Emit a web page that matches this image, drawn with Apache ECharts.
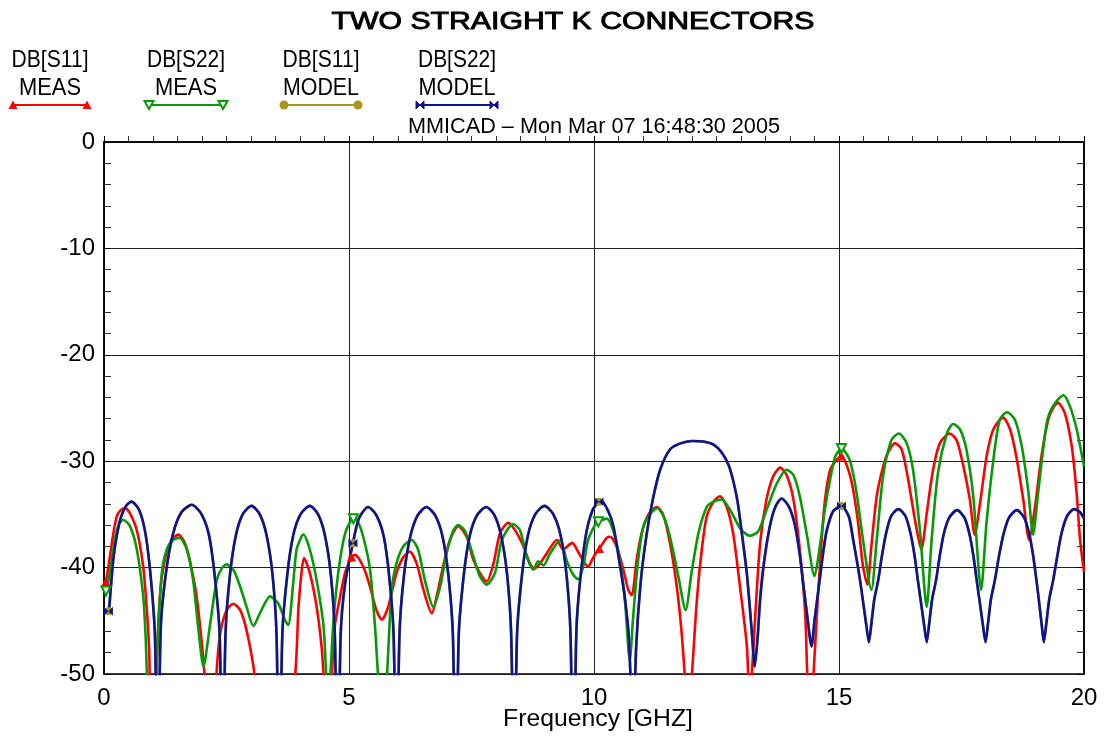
<!DOCTYPE html>
<html><head><meta charset="utf-8">
<script src="https://cdn.jsdelivr.net/npm/echarts@6/dist/echarts.min.js"></script>
<style>html,body{margin:0;padding:0;background:#fff;}#c{width:1104px;height:742px;}</style>
</head><body><div id="c"></div>
<script>
// ---------------- data ----------------
const titleText = 'TWO STRAIGHT K CONNECTORS';
const subtitleText = 'MMICAD \u2013 Mon Mar 07 16:48:30 2005';
const xAxisTitle = 'Frequency [GHZ]';
const legendLine1 = ['DB[S11]', 'DB[S22]', 'DB[S11]', 'DB[S22]'];
const legendLine2 = ['MEAS', 'MEAS', 'MODEL', 'MODEL'];
const xMin = 0, xMax = 20, xStep = 5;
const yMin = -50, yMax = 0, yStep = 10;

// DB[S11] MEAS (red)
const s11MeasFreq = [0.00,0.04,0.12,0.19,0.26,0.34,0.43,0.53,0.67,0.80,0.87,0.92,0.96,1.03,1.07,1.14,1.24,1.38,1.52,1.65,1.75,1.89,1.99,2.06,2.15,2.25,2.31,2.37,2.50,2.64,2.78,2.91,3.05,3.12,3.50,3.88,3.97,4.03,4.08,4.20,4.34,4.44,4.50,4.58,4.65,4.71,4.82,4.92,5.02,5.05,5.12,5.29,5.43,5.56,5.67,5.80,5.97,6.11,6.24,6.38,6.52,6.69,6.79,6.92,7.06,7.23,7.40,7.54,7.67,7.81,7.95,8.08,8.25,8.39,8.56,8.69,8.78,8.90,9.03,9.24,9.37,9.51,9.56,9.71,9.88,9.99,10.11,10.26,10.33,10.46,10.60,10.70,10.77,10.87,10.97,11.11,11.28,11.41,11.55,11.69,11.79,11.86,11.92,11.99,12.10,12.20,12.30,12.44,12.57,12.71,12.84,12.98,13.12,13.17,13.22,13.29,13.39,13.52,13.66,13.80,13.93,14.07,14.20,14.31,14.36,14.42,14.48,14.56,14.63,14.71,14.82,14.95,15.05,15.19,15.29,15.39,15.49,15.58,15.66,15.77,15.90,16.00,16.14,16.28,16.41,16.55,16.68,16.79,16.92,17.06,17.26,17.40,17.54,17.67,17.77,17.88,18.01,18.15,18.35,18.49,18.62,18.76,18.88,19.00,19.13,19.27,19.37,19.47,19.61,19.75,19.85,19.92,20.00];
const s11MeasDb = [-41.6,-41.3,-39.0,-36.8,-35.2,-34.6,-34.4,-34.9,-36.5,-39.9,-43.7,-47.5,-53,-53,-49.5,-42.7,-39.3,-37.4,-36.9,-37.7,-39.3,-42.7,-46.8,-50.5,-55,-53,-49.0,-46.2,-44.0,-43.4,-44.0,-45.9,-49.3,-52,-58,-51,-43.7,-40.5,-39.1,-40.5,-43.7,-47.4,-51,-53,-50,-45.5,-42.7,-40.5,-39.3,-39.0,-38.8,-39.9,-41.8,-44.0,-44.9,-43.7,-40.5,-39.0,-38.5,-39.6,-42.1,-44.3,-42.7,-39.9,-37.4,-36.1,-37.1,-39.3,-40.5,-41.3,-39.6,-36.8,-35.8,-36.5,-38.0,-39.6,-40.1,-39.6,-38.7,-37.4,-38.3,-37.8,-37.7,-38.8,-39.9,-39.0,-38.2,-37.2,-37.1,-38.0,-40.2,-42.1,-42.6,-39.3,-36.8,-35.0,-34.3,-35.0,-37.7,-41.8,-46.2,-50.5,-53,-50.5,-43.0,-38.3,-35.2,-33.8,-33.3,-34.3,-36.8,-41.8,-47.4,-52,-50,-44.6,-37.7,-33.6,-31.4,-30.6,-31.3,-33.6,-38.3,-44.3,-51,-54,-50,-43.5,-38.5,-33.8,-30.8,-29.9,-29.5,-30.8,-32.7,-35.8,-39.9,-41.6,-38.0,-33.3,-30.5,-29.2,-28.3,-28.9,-31.7,-35.5,-38.3,-34.9,-30.8,-28.3,-27.4,-28.0,-30.5,-33.6,-36.9,-33.9,-29.6,-27.0,-25.9,-27.0,-29.6,-33.6,-37.4,-34.3,-29.6,-26.1,-25.0,-24.5,-25.5,-28.6,-33.0,-37.4,-40.4];
const s11MeasMarkers = [0.04, 5.05, 10.11, 15.05];

// DB[S22] MEAS (green)
const s22MeasFreq = [0.00,0.04,0.12,0.22,0.30,0.39,0.53,0.67,0.80,0.85,0.88,0.97,1.06,1.11,1.18,1.28,1.41,1.54,1.69,1.82,1.92,2.03,2.16,2.30,2.40,2.50,2.64,2.78,2.91,3.05,3.18,3.39,3.56,3.69,3.76,3.86,3.93,4.03,4.07,4.20,4.34,4.48,4.54,4.58,4.62,4.68,4.78,4.92,5.09,5.16,5.29,5.43,5.53,5.60,5.69,5.77,5.87,5.97,6.11,6.28,6.41,6.55,6.72,6.86,6.99,7.13,7.23,7.37,7.54,7.67,7.81,7.98,8.12,8.35,8.49,8.63,8.76,8.86,8.97,9.10,9.31,9.44,9.58,9.68,9.78,9.88,10.02,10.09,10.26,10.39,10.53,10.63,10.73,10.80,10.90,11.01,11.14,11.29,11.45,11.58,11.72,11.87,11.99,12.13,12.30,12.44,12.61,12.78,12.98,13.12,13.18,13.35,13.52,13.73,13.93,14.07,14.20,14.34,14.50,14.61,14.71,14.82,14.92,15.05,15.22,15.36,15.49,15.66,15.77,15.90,16.07,16.22,16.38,16.51,16.65,16.79,16.89,17.02,17.20,17.33,17.47,17.60,17.74,17.90,18.01,18.15,18.28,18.43,18.59,18.73,18.86,18.96,19.07,19.24,19.37,19.58,19.71,19.85,20.00];
const s22MeasDb = [-42.3,-42.2,-40.5,-37.4,-36.0,-35.5,-36.1,-38.3,-42.7,-46.5,-50.5,-56,-50.5,-45.5,-40.5,-38.3,-37.4,-37.2,-38.3,-41.2,-45.5,-49.3,-45.5,-41.2,-40.1,-39.7,-40.2,-41.8,-43.7,-45.5,-44.3,-42.7,-43.4,-44.9,-45.4,-41.5,-38.3,-37.1,-36.9,-38.3,-41.2,-45.5,-50.5,-52,-50,-45.2,-40.5,-36.8,-35.4,-35.5,-37.1,-40.2,-45.5,-50.5,-54,-50.5,-42.1,-39.6,-38.0,-37.4,-38.3,-41.2,-43.7,-41.8,-38.7,-36.5,-36.0,-36.6,-39.0,-40.8,-41.6,-40.5,-37.4,-35.9,-36.5,-39.0,-40.2,-39.4,-39.8,-38.7,-37.4,-39.3,-40.7,-41.1,-39.9,-37.4,-36.0,-35.7,-35.4,-36.5,-39.3,-43.0,-48.7,-44.6,-39.3,-36.1,-35.0,-34.4,-35.5,-37.7,-40.8,-44.0,-40.5,-36.8,-34.3,-33.8,-33.6,-34.6,-36.3,-36.9,-37.0,-36.6,-34.6,-32.1,-30.8,-31.3,-33.3,-36.8,-40.8,-38.0,-34.6,-31.7,-29.6,-28.8,-29.9,-33.0,-37.4,-42.1,-37.4,-31.4,-28.0,-27.4,-28.3,-30.8,-36.4,-43.7,-37.4,-31.1,-27.4,-26.5,-27.0,-28.9,-33.3,-42.1,-35.8,-29.9,-26.1,-25.4,-26.1,-28.6,-32.7,-36.9,-32.7,-26.4,-24.8,-23.8,-24.8,-27.0,-30.5];
const s22MeasMarkers = [0.04, 5.09, 10.09, 15.05];

// DB[S22] MODEL (blue)
const s22ModelFreq = [0.00,0.09,0.13,0.19,0.26,0.35,0.45,0.56,0.72,0.85,0.96,1.04,1.09,1.16,1.27,1.41,1.58,1.79,1.98,2.14,2.26,2.36,2.42,2.48,2.57,2.69,2.83,3.01,3.18,3.32,3.44,3.52,3.58,3.64,3.74,3.86,4.01,4.20,4.37,4.51,4.63,4.71,4.77,4.83,4.92,5.08,5.20,5.39,5.56,5.71,5.82,5.91,5.97,6.03,6.12,6.25,6.40,6.58,6.76,6.91,7.03,7.12,7.18,7.24,7.34,7.46,7.61,7.80,7.97,8.11,8.23,8.31,8.37,8.43,8.53,8.65,8.80,8.99,9.17,9.32,9.44,9.52,9.58,9.64,9.71,9.84,9.97,10.10,10.15,10.30,10.40,10.52,10.62,10.71,10.80,10.86,10.95,11.07,11.20,11.35,11.55,11.75,12.00,12.23,12.44,12.61,12.75,12.85,12.93,13.01,13.12,13.22,13.28,13.34,13.39,13.47,13.59,13.70,13.83,13.98,14.10,14.20,14.27,14.35,14.44,14.50,14.56,14.61,14.68,14.75,14.88,15.05,15.20,15.29,15.37,15.43,15.50,15.56,15.61,15.66,15.72,15.80,15.88,15.96,16.06,16.21,16.36,16.46,16.54,16.61,16.68,16.74,16.79,16.84,16.90,16.98,17.06,17.14,17.25,17.41,17.56,17.66,17.74,17.81,17.88,17.94,17.99,18.04,18.10,18.18,18.27,18.36,18.47,18.63,18.78,18.88,18.96,19.03,19.09,19.14,19.18,19.23,19.29,19.37,19.46,19.54,19.65,19.80,19.92,20.00];
const s22ModelDb = [-44.3,-44.1,-42.4,-39.2,-37.0,-35.2,-34.2,-33.8,-34.6,-36.9,-41.2,-46.5,-62,-45.5,-40.3,-36.8,-34.8,-34.1,-34.9,-36.9,-40.8,-46.3,-62,-46.2,-40.7,-37.0,-35.0,-34.2,-35.0,-37.0,-40.7,-46.2,-62,-46.2,-40.7,-37.0,-35.0,-34.2,-35.0,-37.0,-40.7,-46.2,-62,-46.3,-41.5,-37.7,-35.4,-34.3,-35.1,-37.1,-40.8,-46.3,-62,-46.3,-40.8,-37.1,-35.1,-34.3,-35.1,-37.1,-40.8,-46.3,-62,-46.3,-40.8,-37.1,-35.1,-34.3,-35.1,-37.1,-40.8,-46.3,-62,-46.2,-40.7,-37.0,-35.0,-34.2,-35.0,-37.0,-40.7,-46.2,-62,-46.0,-41.5,-36.8,-34.6,-33.8,-33.7,-34.8,-36.2,-39.5,-42.5,-46.5,-56,-47.5,-41.5,-37.0,-33.6,-30.8,-28.9,-28.35,-28.1,-28.15,-28.45,-29.2,-30.4,-32.0,-33.8,-36.5,-40.6,-46.0,-49.3,-46.5,-43.0,-39.5,-36.1,-34.3,-33.5,-34.3,-36.0,-38.8,-41.5,-44.5,-47.4,-45.0,-42.8,-41.0,-38.5,-36.5,-34.7,-34.2,-35.2,-37.4,-39.5,-41.2,-43.5,-45.5,-47.0,-45.3,-43.0,-41.2,-38.8,-36.8,-35.2,-34.5,-35.2,-36.8,-38.8,-41.2,-43.5,-45.5,-47.0,-45.3,-43.0,-41.2,-38.8,-36.8,-35.3,-34.6,-35.3,-36.8,-38.8,-41.2,-43.5,-45.5,-47.0,-45.3,-43.0,-41.2,-38.8,-36.8,-35.3,-34.6,-35.3,-36.8,-38.8,-41.2,-43.5,-45.5,-47.0,-45.3,-43.0,-41.2,-38.8,-36.8,-35.2,-34.5,-34.8,-35.4];
const s22ModelMarkers = [0.09, 5.08, 10.10, 15.05];

// DB[S11] MODEL (olive) - coincides with the S22 model curve, hidden beneath it
const s11ModelFreq = s22ModelFreq;
const s11ModelDb = s22ModelDb;
const s11ModelMarkers = [0.09, 5.08, 10.10, 15.05];

// ---------------- styling ----------------
const RED = '#ff0000', GREEN = '#069a06', OLIVE = '#a8951c', BLUE = '#0b1493';
const FONT = '"Liberation Sans", Arial, Helvetica, sans-serif';
const SYM = {
  red: {symbol: 'triangle', symbolSize: 9},
  green: {symbol: 'path://M0,0L10,0L5,9Z', symbolSize: 9, itemStyle: {color: '#fff', borderColor: GREEN, borderWidth: 2}},
  olive: {symbol: 'circle', symbolSize: 8},
  blue: {symbol: 'path://M0,0L5,5L10,0L10,10L5,5L0,10Z', symbolSize: 9}
};

function buildData(freq, db, markers, sym) {
  return freq.map((f, i) => markers.indexOf(f) >= 0
    ? Object.assign({value: [f, db[i]]}, sym)
    : [f, db[i]]);
}
function lineSeries(name, color, freq, db, markers, sym) {
  return {
    name, type: 'line', data: buildData(freq, db, markers, sym),
    symbol: 'none', showSymbol: true, smooth: 0.25, clip: true,
    color, lineStyle: {color, width: 2.6}, itemStyle: {color},
    silent: true, animation: false
  };
}

const ctx = document.createElement('canvas').getContext('2d');
function fitScale(text, font, width) { ctx.font = font; return width / ctx.measureText(text).width; }
function label(text, cx, cy, size, weight, width, strokeW) {
  const font = weight + ' ' + size + 'px ' + FONT;
  const style = {text, x: 0, y: 0, font, fill: '#000', align: 'center', verticalAlign: 'middle',
      textAlign: 'center', textVerticalAlign: 'middle'};
  if (strokeW) { style.stroke = '#000'; style.lineWidth = strokeW; }
  return {type: 'text', x: cx, y: cy, scaleX: fitScale(text, font, width), silent: true, style};
}

const graphics = [];
graphics.push(label(titleText, 573, 22, 24, 'normal', 483, 0.9));
graphics.push(label(subtitleText, 594, 127, 22, 'normal', 372));
graphics.push(label(xAxisTitle, 598, 719.5, 24, 'normal', 190));

const legendCenters = [50, 186, 321, 457];
const legendColors = [RED, GREEN, OLIVE, BLUE];
const line1W = [77, 78, 77, 78], line2W = [62, 62, 76, 77];
function legendMarker(k, x, y) {
  const c = legendColors[k];
  if (k === 0) return {type: 'polygon', silent: true, shape: {points: [[x-4.5, y+4], [x+4.5, y+4], [x, y-4.5]]}, style: {fill: c}};
  if (k === 1) return {type: 'polygon', silent: true, shape: {points: [[x-4.5, y-4], [x+4.5, y-4], [x, y+4]]}, style: {fill: '#fff', stroke: c, lineWidth: 2}};
  if (k === 2) return {type: 'circle', silent: true, shape: {cx: x, cy: y, r: 4.5}, style: {fill: c}};
  return {type: 'polygon', silent: true, shape: {points: [[x-4, y-4], [x, y], [x+4, y-4], [x+4, y+4], [x, y], [x-4, y+4]]}, style: {fill: c, stroke: c, lineWidth: 1}};
}
legendCenters.forEach((cx, k) => {
  graphics.push(label(legendLine1[k], cx, 60, 24, 'normal', line1W[k]));
  graphics.push(label(legendLine2[k], cx, 88, 24, 'normal', line2W[k]));
  graphics.push({type: 'line', silent: true, shape: {x1: cx-37, y1: 105, x2: cx+37, y2: 105}, style: {stroke: legendColors[k], lineWidth: 2}});
  graphics.push(legendMarker(k, cx-37, 105));
  graphics.push(legendMarker(k, cx+37, 105));
});

const axisFont = {fontFamily: FONT, fontSize: 24, color: '#000'};
const chart = echarts.init(document.getElementById('c'), null, {renderer: 'canvas'});
chart.setOption({
  animation: false,
  backgroundColor: '#fff',
  textStyle: {fontFamily: FONT},
  grid: {left: 104, right: 20, top: 142, bottom: 68, show: true, borderColor: '#000', borderWidth: 1.5, backgroundColor: 'transparent', outerBoundsMode: 'none', containLabel: false},
  xAxis: [{
    type: 'value', min: xMin, max: xMax, interval: xStep, position: 'bottom',
    axisLine: {show: true, lineStyle: {color: '#000', width: 1.5}},
    axisTick: {show: true, inside: true, length: 6, lineStyle: {color: '#000'}},
    minorTick: {show: true, splitNumber: 10, length: 6, lineStyle: {color: '#333', width: 1}},
    axisLabel: Object.assign({margin: 12}, axisFont),
    splitLine: {show: true, lineStyle: {color: '#222', width: 1}},
    minorSplitLine: {show: false}
  }],
  yAxis: [{
    type: 'value', min: yMin, max: yMax, interval: yStep, position: 'left',
    axisLine: {show: true, lineStyle: {color: '#000', width: 1.5}},
    axisTick: {show: true, inside: true, length: 7, lineStyle: {color: '#000'}},
    minorTick: {show: true, splitNumber: 5, length: 7, lineStyle: {color: '#333', width: 1}},
    axisLabel: Object.assign({margin: 9}, axisFont),
    splitLine: {show: true, lineStyle: {color: '#222', width: 1}}
  }, {
    type: 'value', min: yMin, max: yMax, interval: yStep, position: 'right',
    axisLine: {show: true, lineStyle: {color: '#000', width: 1.5}},
    axisTick: {show: true, inside: true, length: 7, lineStyle: {color: '#000'}},
    minorTick: {show: true, splitNumber: 5, length: 7, lineStyle: {color: '#333', width: 1}},
    axisLabel: {show: false}, splitLine: {show: false}
  }],
  graphic: graphics,
  series: [
    lineSeries('DB[S11] MEAS', RED, s11MeasFreq, s11MeasDb, s11MeasMarkers, SYM.red),
    lineSeries('DB[S22] MEAS', GREEN, s22MeasFreq, s22MeasDb, s22MeasMarkers, SYM.green),
    lineSeries('DB[S11] MODEL', OLIVE, s11ModelFreq, s11ModelDb, s11ModelMarkers, SYM.olive),
    lineSeries('DB[S22] MODEL', BLUE, s22ModelFreq, s22ModelDb, s22ModelMarkers, SYM.blue)
  ]
});
</script></body></html>
